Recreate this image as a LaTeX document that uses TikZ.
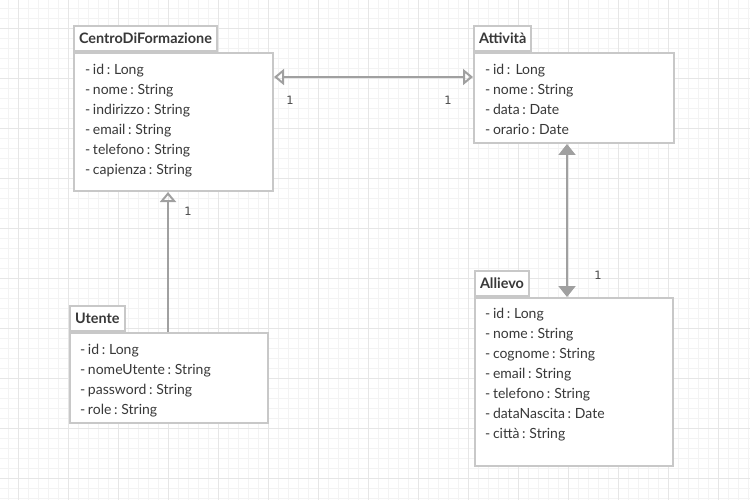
\documentclass[tikz,border=0pt]{standalone}
\usepackage{fontspec}
\setmainfont{Lato}
\newfontfamily\multfont{DejaVu Sans}
\usetikzlibrary{arrows.meta}
\definecolor{gridminor}{HTML}{F3F3F3}
\definecolor{gridmajor}{HTML}{E6E6E6}
\definecolor{boxline}{HTML}{C8C8C8}
\definecolor{linkline}{HTML}{A0A0A0}
\definecolor{textgray}{HTML}{383838}
\newcommand\attrfont{\fontsize{14}{20}\selectfont\spaceskip=2.6pt\relax}
\tikzset{
	classbody/.style={draw=boxline, line width=2pt, fill=white, rectangle, anchor=north west, inner sep=0pt},
	classtab/.style={draw=boxline, line width=2pt, fill=white, rectangle, anchor=south west, minimum height=25pt, inner xsep=5pt, inner ysep=0pt, text=textgray, font=\fontsize{14.4}{16}\selectfont\bfseries},
	attrs/.style={anchor=north west, align=left, inner sep=0pt, text=textgray, font=\attrfont},
	mult/.style={inner sep=0pt, text=textgray!90, font=\multfont\fontsize{11.5}{13}\selectfont},
	openboth/.style={draw=linkline, line width=2pt, {Triangle[open, length=10pt, width=16pt]}-{Triangle[open, length=10pt, width=16pt]}},
	gen/.style={draw=linkline, line width=2pt, -{Triangle[open, length=10pt, width=16pt]}},
	fullboth/.style={draw=linkline, line width=2pt, {Triangle[length=11pt, width=17pt]}-{Triangle[length=11pt, width=17pt]}}
}
\begin{document}
\begin{tikzpicture}[x=1pt, y=-1pt]
	\useasboundingbox (0,0) rectangle (750,500);
	
	% Background grid
	\begin{scope}[shift={(8,8)}]
		\draw[gridminor, line width=0.8pt, step=10pt] (-10,-10) grid (750,500);
	\end{scope}
	\begin{scope}[shift={(18,28)}]
		\draw[gridmajor, line width=0.8pt, step=50pt] (-20,-30) grid (740,480);
	\end{scope}
	
	% Classes
	\node[classbody, minimum width=199pt, minimum height=138pt] (centro) at (73,52) {};
	\node[classtab] (centrotab) at (centro.north west) {CentroDiFormazione};
	\node[attrs] (centroattr) at ([shift={(12,12)}]centro.north west) {- id : Long\\- nome : String\\- indirizzo : String\\- email : String\\- telefono : String\\- capienza : String};
	
	\node[classbody, minimum width=200pt, minimum height=90pt] (attivita) at (473,52) {};
	\node[classtab] (attivitatab) at (attivita.north west) {Attività};
	\node[attrs] (attivitaattr) at ([shift={(12,12)}]attivita.north west) {- id :\ \ Long\\- nome : String\\- data : Date\\- orario : Date};
	
	\node[classbody, minimum width=198pt, minimum height=90pt] (utente) at (69,332) {};
	\node[classtab] (utentetab) at (utente.north west) {Utente};
	\node[attrs] (utenteattr) at ([shift={(11,12)}]utente.north west) {- id : Long\\- nomeUtente : String\\- password : String\\- role : String};
	
	\node[classbody, minimum width=198pt, minimum height=168pt] (allievo) at (474,297) {};
	\node[classtab] (allievotab) at (allievo.north west) {Allievo};
	\node[attrs] (allievoattr) at ([shift={(11,11)}]allievo.north west) {- id : Long\\- nome : String\\- cognome : String\\- email : String\\- telefono : String\\- dataNascita : Date\\- città : String};
	
	% Associations
	\draw[openboth] ([yshift=-25pt]centro.north east) -- ([yshift=-25pt]attivita.north west);
	\draw[gen] ([xshift=99pt]utente.north west) -- ([xshift=99pt]utente.north west |- centro.south);
	\draw[fullboth] ([xshift=93pt]allievo.north west |- attivita.south) -- ([xshift=93pt]allievo.north west);
	
	% Multiplicities
	\node[mult] (m1) at ([shift={(16,48)}]centro.north east) {1};
	\node[mult] (m2) at ([shift={(-25,48)}]attivita.north west) {1};
	\node[mult] (m3) at ([shift={(115,19)}]centro.south west) {1};
	\node[mult] (m4) at ([shift={(124,-22)}]allievo.north west) {1};
\end{tikzpicture}
\end{document}
